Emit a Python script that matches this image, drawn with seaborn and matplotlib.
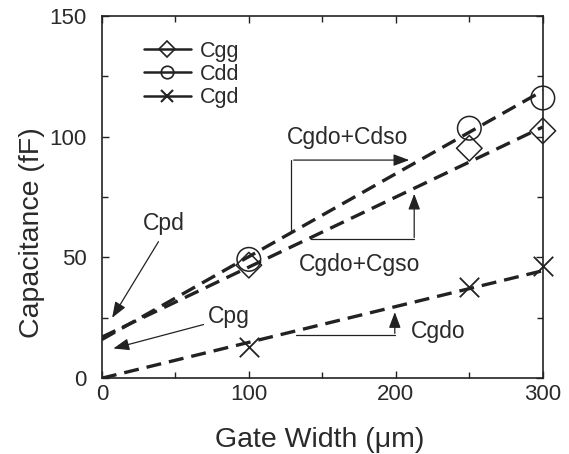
import matplotlib
matplotlib.use("Agg")
import matplotlib.pyplot as plt
import seaborn as sns
import pandas as pd
from matplotlib.lines import Line2D
from matplotlib.ticker import MultipleLocator

# ---- data ----
gate_width = [100, 250, 300]
cgg = [46.8, 95.2, 102.4]
cdd = [49.2, 103.5, 116.0]
cgd = [13.0, 37.8, 46.5]

fit_width = [0, 300]
cgg_fit = [17.0, 104.0]
cdd_fit = [16.0, 119.0]
cgd_fit = [0.0, 44.5]

series_names = ["Cgg", "Cdd", "Cgd"]

sns.set_theme(style="white")
plt.rcParams['font.family'] = ['Liberation Sans', 'DejaVu Sans']

txt = '#2a2a2a'
ink = '#222222'

fig = plt.figure(figsize=(5.69, 4.54), dpi=100)
ax = fig.add_axes([0.179, 0.167, 0.775, 0.798])

pts = pd.DataFrame({"w": gate_width * 3,
                    "c": cgg + cdd + cgd,
                    "s": ["Cgg"] * 3 + ["Cdd"] * 3 + ["Cgd"] * 3})
fits = pd.DataFrame({"w": fit_width * 3,
                     "c": cgg_fit + cdd_fit + cgd_fit,
                     "s": ["Cgg"] * 2 + ["Cdd"] * 2 + ["Cgd"] * 2})

for name in series_names:
    sub = fits[fits.s == name]
    sns.lineplot(data=sub, x="w", y="c", ax=ax, color=ink, lw=2.4,
                 dashes=False, linestyle=(0, (4.5, 2.4)), legend=False)

markers = {"Cgg": "D", "Cdd": "o", "Cgd": "x"}
msize = {"Cgg": 13, "Cdd": 17, "Cgd": 14}
for name in series_names:
    sub = pts[pts.s == name]
    if markers[name] == "x":
        sns.scatterplot(data=sub, x="w", y="c", ax=ax, marker="x",
                        s=msize[name] ** 2, color=ink, linewidth=1.3,
                        legend=False, zorder=5, clip_on=False)
    else:
        sns.scatterplot(data=sub, x="w", y="c", ax=ax, marker=markers[name],
                        s=msize[name] ** 2, facecolors="none",
                        edgecolor=ink, linewidth=1.1, legend=False, zorder=5,
                        clip_on=False)

ax.set_xlim(0, 300)
ax.set_ylim(0, 150)
ax.xaxis.set_major_locator(MultipleLocator(100))
ax.xaxis.set_minor_locator(MultipleLocator(50))
ax.yaxis.set_major_locator(MultipleLocator(50))
ax.yaxis.set_minor_locator(MultipleLocator(25))
ax.tick_params(which="both", direction="in", top=True, right=True,
               bottom=True, left=True, color=ink, width=1.0,
               labelsize=16, labelcolor=txt)
ax.tick_params(axis="y", which="major", pad=11)
ax.tick_params(axis="x", which="major", pad=4)
ax.tick_params(which="major", length=5)
ax.tick_params(which="minor", length=4)
for sp in ax.spines.values():
    sp.set_color(ink)
    sp.set_linewidth(1.2)

ax.set_xlabel("Gate Width (\u03bcm)", fontsize=20.5, color=txt)
ax.set_ylabel("Capacitance (fF)", fontsize=20.5, color=txt)
ax.xaxis.set_label_coords(0.493, -0.135)
ax.yaxis.set_label_coords(-0.128, 0.403)

# legend
handles = [
    Line2D([], [], color=ink, lw=1.8, marker="D", ms=8, mfc="none", mec=ink, mew=1.2),
    Line2D([], [], color=ink, lw=1.8, marker="o", ms=9, mfc="none", mec=ink, mew=1.2),
    Line2D([], [], color=ink, lw=1.8, marker="x", ms=9, mec=ink, mew=1.5),
]
leg = ax.legend(handles, series_names, loc="upper left", frameon=False,
                bbox_to_anchor=(0.075, 0.955), fontsize=15.5, handlelength=2.2,
                handletextpad=0.4, labelspacing=0.1, borderaxespad=0)
for t in leg.get_texts():
    t.set_color(txt)

ann_fs = 16.5
arrow_kw = dict(arrowstyle="-|>,head_length=0.8,head_width=0.3", color=ink, lw=0.9)

# Cgdo+Cdso bracket
ax.text(126, 99.5, "Cgdo+Cdso", fontsize=ann_fs, color=txt, va="center", ha="left")
ax.plot([129, 129], [61.5, 90.3], color=ink, lw=0.9)
ax.annotate("", xy=(211, 90.3), xytext=(128.6, 90.3), arrowprops=arrow_kw)

# Cgdo+Cgso bracket
ax.text(134, 47.0, "Cgdo+Cgso", fontsize=ann_fs, color=txt, va="center", ha="left")
ax.plot([142.6, 212.5], [57.5, 57.5], color=ink, lw=0.9)
ax.annotate("", xy=(212.5, 77.5), xytext=(212.5, 57.1), arrowprops=arrow_kw)

# Cgdo bracket
ax.text(210, 19.5, "Cgdo", fontsize=ann_fs, color=txt, va="center", ha="left")
ax.plot([132.4, 199.3], [17.8, 17.8], color=ink, lw=0.9)
ax.annotate("", xy=(199.3, 28.5), xytext=(199.3, 17.4), arrowprops=arrow_kw)

# Cpd
ax.text(28, 64, "Cpd", fontsize=ann_fs, color=txt, va="center", ha="left")
ax.annotate("", xy=(6.0, 24.0), xytext=(39.5, 57.5), arrowprops=arrow_kw)

# Cpg
ax.text(72, 25.5, "Cpg", fontsize=ann_fs, color=txt, va="center", ha="left")
ax.annotate("", xy=(6.0, 12.0), xytext=(71, 22.5), arrowprops=arrow_kw)

fig.savefig("out.png", dpi=100)
